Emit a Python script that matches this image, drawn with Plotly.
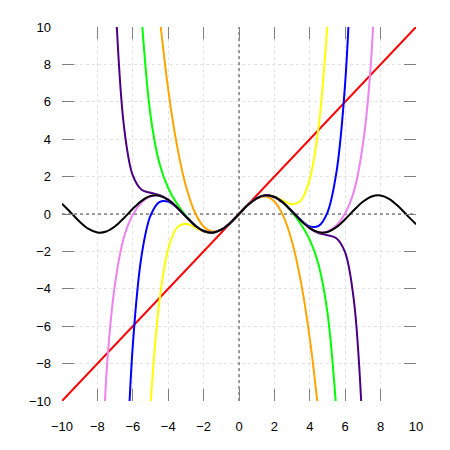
import plotly.graph_objects as go

# sin(x) sampled every 0.5
x_sin = [-10, -9.5, -9, -8.5, -8, -7.5, -7, -6.5, -6, -5.5, -5, -4.5, -4, -3.5, -3, -2.5, -2, -1.5, -1, -0.5,
         0, 0.5, 1, 1.5, 2, 2.5, 3, 3.5, 4, 4.5, 5, 5.5, 6, 6.5, 7, 7.5, 8, 8.5, 9, 9.5, 10]
y_sin = [0.544, 0.0752, -0.4121, -0.7985, -0.9894, -0.938, -0.657, -0.2151, 0.2794, 0.7055, 0.9589, 0.9775,
         0.7568, 0.3508, -0.1411, -0.5985, -0.9093, -0.9975, -0.8415, -0.4794,
         0, 0.4794, 0.8415, 0.9975, 0.9093, 0.5985, 0.1411, -0.3508, -0.7568, -0.9775, -0.9589, -0.7055,
         -0.2794, 0.2151, 0.657, 0.938, 0.9894, 0.7985, 0.4121, -0.0752, -0.544]

# order 1
x_t1 = [-10, 10]
y_t1 = [-10, 10]

# order 3
x_t3 = [-4.5, -4, -3.5, -3, -2.5, -2, -1.5, -1, -0.5, 0, 0.5, 1, 1.5, 2, 2.5, 3, 3.5, 4, 4.5]
y_t3 = [10.6875, 6.6667, 3.6458, 1.5, 0.1042, -0.6667, -0.9375, -0.8333, -0.4792,
        0, 0.4792, 0.8333, 0.9375, 0.6667, -0.1042, -1.5, -3.6458, -6.6667, -10.6875]

# order 5
x_t5 = [-5, -4.5, -4, -3.5, -3, -2.5, -2, -1.5, -1, -0.5, 0, 0.5, 1, 1.5, 2, 2.5, 3, 3.5, 4, 4.5, 5]
y_t5 = [-10.208, -4.69, -1.8667, -0.731, -0.525, -0.7096, -0.9333, -1.0008, -0.8417, -0.4794,
        0, 0.4794, 0.8417, 1.0008, 0.9333, 0.7096, 0.525, 0.731, 1.8667, 4.69, 10.208]

# order 7
x_t7 = [-5.5, -5, -4.5, -4, -3.5, -3, -2.5, -2, -1.5, -1, -0.5, 0,
        0.5, 1, 1.5, 2, 2.5, 3, 3.5, 4, 4.5, 5, 5.5]
y_t7 = [10.496, 5.293, 2.7241, 1.3841, 0.5456, -0.0911, -0.5885, -0.9079, -0.9974, -0.8415, -0.4794, 0,
        0.4794, 0.8415, 0.9974, 0.9079, 0.5885, 0.0911, -0.5456, -1.3841, -2.7241, -5.293, -10.496]

# order 9
x_t9 = [-6.5, -6, -5.5, -5, -4.5, -4, -3.5, -3, -2.5, -2, -1.5, -1, -0.5, 0,
        0.5, 1, 1.5, 2, 2.5, 3, 3.5, 4, 4.5, 5, 5.5, 6, 6.5]
y_t9 = [-17.227, -7.028, -2.195, -0.0893, 0.6389, 0.6617, 0.3284, -0.1453, -0.599, -0.9093, -0.9975,
        -0.8415, -0.4794, 0,
        0.4794, 0.8415, 0.9975, 0.9093, 0.599, 0.1453, -0.3284, -0.6617, -0.6389, 0.0893, 2.195, 7.028, 17.227]

# order 11
x_t11 = [-7, -6.5, -6, -5.5, -5, -4.5, -4, -3.5, -3, -2.5, -2, -1.5, -1, -0.5, 0,
         0.5, 1, 1.5, 2, 2.5, 3, 3.5, 4, 4.5, 5, 5.5, 6, 6.5, 7]
y_t11 = [11.842, 4.696, 2.061, 1.295, 1.1339, 1.0228, 0.7668, 0.3526, -0.1409, -0.5984, -0.9093, -0.9975,
         -0.8415, -0.4794, 0,
         0.4794, 0.8415, 0.9975, 0.9093, 0.5984, 0.1409, -0.3526, -0.7668, -1.0228, -1.1339, -1.295, -2.061,
         -4.696, -11.842]

# order 13
x_t13 = [-8, -7.5, -7, -6.5, -6, -5.5, -5, -4.5, -4, -3.5, -3, -2.5, -2, -1.5, -1, -0.5, 0,
         0.5, 1, 1.5, 2, 2.5, 3, 3.5, 4, 4.5, 5, 5.5, 6, 6.5, 7, 7.5, 8]
y_t13 = [-22.591, -8.75, -3.717, -1.241, -0.0365, 0.6184, 0.9379, 0.973, 0.756, 0.3507, -0.1411, -0.5985,
         -0.9093, -0.9975, -0.8415, -0.4794, 0,
         0.4794, 0.8415, 0.9975, 0.9093, 0.5985, 0.1411, -0.3507, -0.756, -0.973, -0.9379, -0.6184, 0.0365,
         1.241, 3.717, 8.75, 22.591]

tick_vals = [-10, -8, -6, -4, -2, 0, 2, 4, 6, 8, 10]

series = [
    (x_t1, y_t1, "red"),
    (x_t3, y_t3, "orange"),
    (x_t5, y_t5, "yellow"),
    (x_t7, y_t7, "lime"),
    (x_t9, y_t9, "blue"),
    (x_t11, y_t11, "indigo"),
    (x_t13, y_t13, "violet"),
    (x_sin, y_sin, "black"),
]

fig = go.Figure()
for xs, ys, col in series:
    fig.add_trace(go.Scatter(x=xs, y=ys, mode="lines", line=dict(color=col, width=2, shape="spline"),
                             showlegend=False))

# dotted zero axes
fig.add_shape(type="line", x0=-10, x1=10, y0=0, y1=0, line=dict(color="#444444", width=1, dash="dot"), layer="between")
fig.add_shape(type="line", x0=0, x1=0, y0=-10, y1=10, line=dict(color="#444444", width=1, dash="dot"), layer="between")

axis_style = dict(
    range=[-10, 10], tickvals=tick_vals, ticks="inside", ticklen=12, tickcolor="gray", tickwidth=1,
    mirror="ticks", showline=False, zeroline=False,
    showgrid=True, gridcolor="#e2e2e2", griddash="dot", gridwidth=1,
    tickfont=dict(family="Liberation Sans", size=13, color="black"),
)

fig.update_layout(
    width=450, height=450,
    margin=dict(l=54, r=42, t=16, b=57),
    plot_bgcolor="white", paper_bgcolor="white",
    xaxis=dict(**axis_style, ticklabelstandoff=16),
    yaxis=dict(**axis_style, ticklabelstandoff=10),
)

fig.write_html("out.html")
